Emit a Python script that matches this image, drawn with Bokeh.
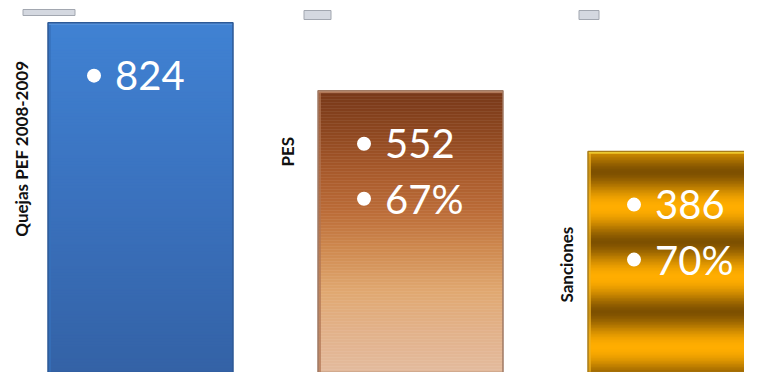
import numpy as np
from bokeh.plotting import figure
from bokeh.models import Range1d, ColumnDataSource
from bokeh.core.properties import value
from bokeh.embed import file_html
from bokeh.resources import INLINE

# ---------------- data ----------------
categories = ["Quejas PEF 2008-2009", "PES", "Sanciones"]
counts = [824, 552, 386]
percents = ["", "67%", "70%"]

# ---------------- layout / style ----------------
W, H = 744, 372
Y0, Y1 = 105.3, 938.5          # log value axis
PX_PER_X = 270.0
X_CENTER0 = 140.0
BAR_W_PX = 185.0
BAR_BOTTOM_PX = 386.0          # visual bottom of the shapes (below frame)
LOGSPAN = np.log(Y1) - np.log(Y0)

x_start = -X_CENTER0 / PX_PER_X
x_end = (W - X_CENTER0) / PX_PER_X
bar_w = BAR_W_PX / PX_PER_X


def px_of(v):
    return H * (np.log(Y1) - np.log(v)) / LOGSPAN


def y_of_px(px):
    return float(np.exp(np.log(Y1) - px * LOGSPAN / H))


def y_down(v, px):
    return float(np.exp(np.log(v) - px * LOGSPAN / H))


def hex2rgb(h):
    h = h.lstrip("#")
    return np.array([int(h[i:i + 2], 16) for i in (0, 2, 4)], dtype=float)


def rgb2hex(c):
    c = np.clip(np.round(c), 0, 255).astype(int)
    return "#%02x%02x%02x" % tuple(c)


def interp_stops(t, stops):
    ts = [s[0] for s in stops]
    cs = [hex2rgb(s[1]) for s in stops]
    t = min(max(t, 0.0), 1.0)
    for k in range(len(ts) - 1):
        if ts[k] <= t <= ts[k + 1]:
            f = (t - ts[k]) / (ts[k + 1] - ts[k]) if ts[k + 1] > ts[k] else 0
            return rgb2hex(cs[k] * (1 - f) + cs[k + 1] * f)
    return rgb2hex(cs[-1])


blue_stops = [(0.0, "#4082d3"), (0.5, "#3a71bd"), (1.0, "#3361a4")]
brown_stops = [(0.0, "#773819"), (0.14, "#8d4720"), (0.27, "#a7592b"),
               (0.41, "#bb6c38"), (0.54, "#cf8a50"), (0.68, "#e0a871"),
               (0.81, "#e2b189"), (1.0, "#e4bea4")]
GOLD_BRIGHT = hex2rgb("#ffad00")
GOLD_DARK = hex2rgb("#7d5000")
GOLD_PERIOD = 70.0
GOLD_PHASE = 56.0


def color_at(i, d, total):
    if i == 0:
        return interp_stops(d / total, blue_stops)
    if i == 1:
        return interp_stops(d / total, brown_stops)
    s = 0.5 + 0.5 * np.cos(2 * np.pi * (d - GOLD_PHASE) / GOLD_PERIOD)
    s = s ** 0.8
    return rgb2hex(GOLD_DARK * (1 - s) + GOLD_BRIGHT * s)


edge_colors = ["#2c5996", "#a07a64", "#a97c18"]
top_colors = ["#5a94dc", "#c58d6d", "#ffe23c"]
left_colors = ["#3670bb", "#b07552", "#f0b020"]

p = figure(width=W, height=H, x_range=Range1d(x_start, x_end),
           y_range=Range1d(Y0, Y1), y_axis_type="log",
           x_axis_location=None, y_axis_location=None,
           output_backend="svg", toolbar_location=None, min_border=0)
p.grid.visible = False
p.outline_line_color = None
p.background_fill_color = "white"
p.border_fill_color = "white"

# ---------------- bars as gradient slices ----------------
L, R, T, B, C = [], [], [], [], []
for i, v in enumerate(counts):
    top_px = px_of(v)
    total = BAR_BOTTOM_PX - top_px
    edges = list(np.arange(top_px, H, 1.5)) + [H]
    for k, (a, b) in enumerate(zip(edges[:-1], edges[1:])):
        L.append(i - bar_w / 2)
        R.append(i + bar_w / 2)
        T.append(y_of_px(a if k == 0 else a - 0.6))
        B.append(y_of_px(b))
        C.append(color_at(i, (a + b) / 2 - top_px, total))
p.quad(left="l", right="r", top="t", bottom="b", fill_color="c", line_color=None,
       source=ColumnDataSource(dict(l=L, r=R, t=T, b=B, c=C)))

# bevel edges
ex = list(range(len(counts)))
p.quad(left=[i - bar_w / 2 for i in ex], right=[i - bar_w / 2 + 3 / PX_PER_X for i in ex],
       top=[y_down(v, 2) for v in counts], bottom=[Y0] * len(counts),
       fill_color=left_colors, fill_alpha=0.7, line_color=None)
p.quad(left=[i - bar_w / 2 for i in ex], right=[i + bar_w / 2 for i in ex],
       top=counts, bottom=[y_down(v, 2) for v in counts],
       fill_color=top_colors, line_color=None)
p.quad(left=[i - bar_w / 2 for i in ex], right=[i + bar_w / 2 for i in ex],
       top=counts, bottom=[Y0] * len(counts),
       fill_color=None, line_color=edge_colors, line_width=1.5)

# small grey tabs above each bar
tab_x = [(-25, 27), (-14, 13), (-9, 11)]
tab_y = [(9, 15), (10, 19), (10, 19)]
p.quad(left=[i - bar_w / 2 + a / PX_PER_X for i, (a, b) in enumerate(tab_x)],
       right=[i - bar_w / 2 + b / PX_PER_X for i, (a, b) in enumerate(tab_x)],
       top=[y_of_px(a) for a, b in tab_y], bottom=[y_of_px(b) for a, b in tab_y],
       fill_color="#d4d8e0", line_color="#a2a7b0", line_width=1)

# ---------------- texts ----------------
BULLET_DX, TEXT_DX = 46.0, 67.0
LINE1_BASE, LINE_GAP, BULLET_UP = 53.0, 55.0, 0.0
tx, ty, tt, bx, by = [], [], [], [], []
for i, v in enumerate(counts):
    lines = [str(v)] + ([percents[i]] if percents[i] else [])
    for k, s in enumerate(lines):
        base = LINE1_BASE + k * LINE_GAP
        tx.append(i - bar_w / 2 + TEXT_DX / PX_PER_X)
        ty.append(y_down(v, base))
        tt.append(s)
        bx.append(i - bar_w / 2 + BULLET_DX / PX_PER_X)
        by.append(y_down(v, base - BULLET_UP))
p.scatter(x=bx, y=by, size=14, marker="circle", fill_color="white", line_color=None)
p.text(x=tx, y=ty, text=tt, text_color="white", text_font=value("Lato"),
       text_font_size="40px", text_align="left", text_baseline="middle")

label_dx = [27.0, 31.0, 22.0]
label_dy = [126.0, 61.0, 113.0]
p.text(x=[i - bar_w / 2 - label_dx[i] / PX_PER_X for i in range(len(categories))],
       y=[y_down(v, label_dy[i]) for i, v in enumerate(counts)],
       text=categories, angle=np.pi / 2, text_color="#111111",
       text_font=value("Lato"), text_font_style="bold", text_font_size="17px",
       text_align="center", text_baseline="middle")

open("out.html", "w").write(file_html(p, INLINE))
